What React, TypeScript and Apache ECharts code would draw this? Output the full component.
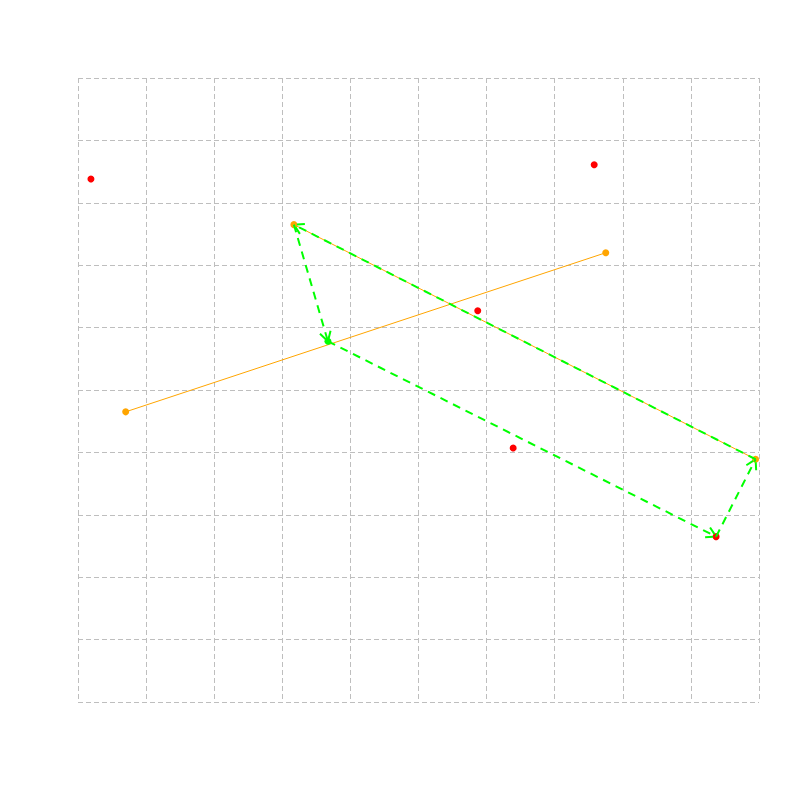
import React, { useEffect, useRef } from "react";
import * as echarts from "echarts";

// Red points
const redX = [0.19, 7.58, 5.87, 6.39, 9.37];
const redY = [8.38, 8.61, 6.27, 4.07, 2.65];

// Orange segments (endpoints are also orange points)
const orangeSeg1X = [0.70, 7.75];
const orangeSeg1Y = [4.65, 7.20];
const orangeSeg2X = [3.17, 9.95];
const orangeSeg2Y = [7.65, 3.89];

// Green point
const greenX = [3.67];
const greenY = [5.78];

// Green dashed arrow path (vertices, arrows go from each vertex to the next)
const arrowPathX = [9.95, 3.17, 3.67, 9.37, 9.95];
const arrowPathY = [3.89, 7.65, 5.78, 2.65, 3.89];

const App: React.FC = () => {
  const ref = useRef<HTMLDivElement>(null);

  useEffect(() => {
    if (!ref.current) return;
    const chart = echarts.init(ref.current, null, { renderer: "svg" });

    const redData = redX.map((x, i) => [x, redY[i]]);
    const seg1 = orangeSeg1X.map((x, i) => [x, orangeSeg1Y[i]]);
    const seg2 = orangeSeg2X.map((x, i) => [x, orangeSeg2Y[i]]);
    const greenData = greenX.map((x, i) => [x, greenY[i]]);
    const arrowData: number[][] = [];
    for (let i = 0; i < arrowPathX.length - 1; i++) {
      arrowData.push([arrowPathX[i], arrowPathY[i], arrowPathX[i + 1], arrowPathY[i + 1]]);
    }

    const axisCommon = {
      type: "value" as const,
      min: 0,
      max: 10,
      interval: 1,
      axisLine: { show: false },
      axisTick: { show: false },
      axisLabel: { show: false },
      splitLine: {
        show: true,
        showMinLine: true,
        showMaxLine: true,
        lineStyle: { color: "#bebebe", type: [5, 3], width: 1 },
      },
    };

    chart.setOption({
      animation: false,
      backgroundColor: "#ffffff",
      grid: { left: 78, top: 78, width: 681, height: 624 },
      xAxis: axisCommon,
      yAxis: axisCommon,
      series: [
        {
          type: "line",
          data: seg1,
          symbol: "circle",
          symbolSize: 7,
          itemStyle: { color: "#FFA500", opacity: 1 },
          lineStyle: { color: "#FFA500", width: 1 },
          z: 2,
        },
        {
          type: "line",
          data: seg2,
          symbol: "circle",
          symbolSize: 7,
          itemStyle: { color: "#FFA500", opacity: 1 },
          lineStyle: { color: "#FFA500", width: 1 },
          z: 2,
        },
        {
          type: "scatter",
          data: redData,
          symbol: "circle",
          symbolSize: 7,
          itemStyle: { color: "#FF0000", opacity: 1 },
          z: 3,
        },
        {
          type: "scatter",
          data: greenData,
          symbol: "circle",
          symbolSize: 7,
          itemStyle: { color: "#00FF00", opacity: 1 },
          z: 3,
        },
        {
          type: "custom",
          data: arrowData,
          encode: { x: [0, 2], y: [1, 3] },
          z: 5,
          renderItem: (_params: any, api: any) => {
            const p0 = api.coord([api.value(0), api.value(1)]);
            const p1 = api.coord([api.value(2), api.value(3)]);
            const ang = Math.atan2(p1[1] - p0[1], p1[0] - p0[0]);
            const L = 11;
            const a = Math.PI / 6;
            const b1 = [p1[0] - L * Math.cos(ang - a), p1[1] - L * Math.sin(ang - a)];
            const b2 = [p1[0] - L * Math.cos(ang + a), p1[1] - L * Math.sin(ang + a)];
            return {
              type: "group",
              children: [
                {
                  type: "line",
                  shape: { x1: p0[0], y1: p0[1], x2: p1[0], y2: p1[1] },
                  style: { stroke: "#00FF00", lineWidth: 2, lineDash: [8, 6], fill: null },
                },
                {
                  type: "polyline",
                  shape: { points: [b1, p1, b2] },
                  style: { stroke: "#00FF00", lineWidth: 2, lineDash: [8, 6], fill: null },
                },
              ],
            };
          },
        },
      ],
    });

    return () => chart.dispose();
  }, []);

  return (
    <div
      ref={ref}
      style={{ position: "fixed", left: 0, top: 0, width: 800, height: 800, background: "#fff" }}
    />
  );
};

export default App;
